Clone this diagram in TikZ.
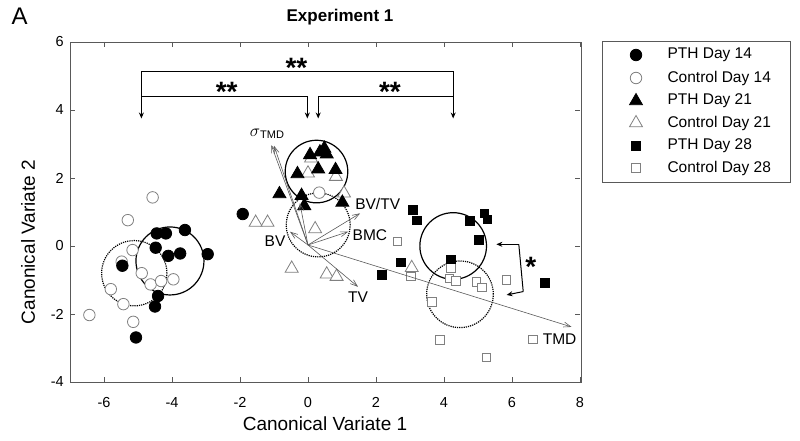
\documentclass[tikz,border=0pt]{standalone}
\usepackage{fontspec}
\setmainfont{Liberation Sans}
\usetikzlibrary{shapes.geometric,arrows.meta}
\begin{document}
\begin{tikzpicture}[x=1pt,y=-1pt,
  mk/.style={inner sep=0pt,line width=0.8pt},
  fc/.style={mk,circle,fill=black,draw=black,minimum size=11.5pt},
  oc/.style={mk,circle,draw=gray,fill=white,minimum size=11.5pt},
  ft/.style={mk,regular polygon,regular polygon sides=3,fill=black,draw=black,minimum size=15pt},
  ot/.style={mk,regular polygon,regular polygon sides=3,draw=gray,fill=white,minimum size=15pt},
  fs/.style={mk,rectangle,fill=black,draw=black,minimum size=8.5pt},
  os/.style={mk,rectangle,draw=gray,fill=white,minimum size=8.5pt},
  solidc/.style={line width=1.2pt},
  dotc/.style={line width=1.2pt,densely dotted},
  vec/.style={gray!70!black,line width=0.6pt,-{Straight Barb[length=7pt,width=5pt]}},
  brk/.style={line width=1pt},
  brka/.style={line width=1pt,-{Stealth[length=6pt,width=5pt]}},
  tick/.style={font=\fontsize{14.5}{15}\selectfont},
  lab/.style={font=\fontsize{15.5}{16}\selectfont},
  star/.style={font=\bfseries\fontsize{28}{28}\selectfont},
  leg/.style={font=\fontsize{15.5}{16}\selectfont,anchor=west}]
\useasboundingbox (0,0) rectangle (800,441);
\node[font=\fontsize{24}{24}\selectfont,anchor=west] (A) at (8,16) {A};
\node[font=\bfseries\fontsize{17}{17}\selectfont] (title) at (340,17) {Experiment 1};
\node[font=\fontsize{19}{19}\selectfont] (xl) at (325,424) {Canonical Variate 1};
\node[font=\fontsize{19}{19}\selectfont,rotate=90] (yl) at (28,242) {Canonical Variate 2};
\draw[gray!70!black,line width=0.7pt] (70,42) rectangle (581,382);
\begin{scope}[shift={(308,246)},x=34pt,y=34pt]
\foreach \v in {-6,-4,...,8}{
  \draw[gray!70!black] (\v,-4) -- ++(0,0.15) (\v,6) -- ++(0,-0.15);
  \node[tick] at (\v,-4.6) {\v};}
\foreach \v in {-4,-2,...,6}{
  \draw[gray!70!black] (-7,\v) -- ++(0.15,0) (8,\v) -- ++(-0.15,0);
  \node[tick,anchor=east] at (-7.08,\v) {\v};}
% circles
\draw[dotc] (-5.11,-0.80) circle (0.96);
\draw[solidc] (-4.06,-0.44) circle (1.0);
\draw[solidc] (0.25,2.19) circle (0.92);
\draw[dotc] (0.30,0.62) circle (0.94);
\draw[solidc] (4.27,0.0) circle (0.98);
\draw[dotc] (4.47,-1.42) circle (0.98);
% control day 14
\foreach \x/\y in {-4.57/1.43,-5.30/0.76,-5.16/-0.12,-5.48/-0.46,-4.89/-0.80,-4.63/-1.13,-4.32/-1.03,-3.96/-0.98,-5.80/-1.27,-5.43/-1.71,-6.43/-2.03,-5.14/-2.23,0.33/1.57}
  \node[oc] at (\x,\y) {};
% PTH day 14
\foreach \x/\y in {-4.45/0.37,-4.18/0.37,-3.62/0.47,-4.48/-0.05,-4.11/-0.29,-3.76/-0.22,-2.95/-0.24,-5.46/-0.58,-4.41/-1.47,-4.50/-1.78,-5.06/-2.69,-1.92/0.94}
  \node[fc] at (\x,\y) {};
% control day 21
\foreach \x/\y in {0.09/2.58,0.0/2.14,0.82/2.04,1.06/1.55,-1.54/0.69,-1.19/0.69,0.21/0.5,-0.48/-0.66,0.55/-0.83,0.84/-0.9,3.05/-0.64}
  \node[ot] at (\x,\y) {};
% PTH day 21
\foreach \x/\y in {0.48/2.87,0.35/2.76,0.06/2.68,0.55/2.7,-0.31/2.12,0.30/2.26,0.81/2.24,-0.84/1.53,-0.19/1.48,-0.11/1.18,1.01/1.28}
  \node[ft] at (\x,\y) {};
% control day 28
\foreach \x/\y in {2.63/0.13,3.03/-0.9,4.21/-0.64,4.16/-0.95,4.35/-1.02,4.96/-1.05,5.11/-1.22,5.84/-1.0,3.64/-1.64,3.88/-2.76,5.25/-3.28,6.61/-2.74}
  \node[os] at (\x,\y) {};
% PTH day 28
\foreach \x/\y in {3.08/1.06,3.2/0.76,5.19/0.96,5.28/0.78,4.76/0.74,5.03/0.18,2.73/-0.48,2.18/-0.85,4.21/-0.39,6.97/-1.08}
  \node[fs] at (\x,\y) {};
% vectors
\coordinate (o) at (0,0.03);
\draw[vec] (o) -- (-1.08,2.97);
\draw[vec] (o) -- (-1.0,2.95);
\draw[vec] (o) -- (-0.53,0.42);
\draw[vec] (o) -- (-0.24,1.26);
\draw[vec] (o) -- (1.53,0.96);
\draw[vec] (o) -- (1.18,0.42);
\draw[vec] (o) -- (1.47,-1.20);
\draw[vec] (o) -- (7.75,-2.38);
\node[font=\fontsize{16}{16}\selectfont] (sig) at (-1.2,3.3) {$\sigma$\textsubscript{\fontsize{11}{11}\selectfont TMD}};
\node[lab] (bvtv) at (2.05,1.25) {BV/TV};
\node[lab] (bmc) at (1.82,0.32) {BMC};
\node[lab] (bv) at (-0.97,0.13) {BV};
\node[lab] (tv) at (1.47,-1.5) {TV};
\node[lab] (tmd) at (7.4,-2.75) {TMD};
% brackets
\coordinate (b1) at (-4.9,3.75); \coordinate (b2) at (4.27,3.75);
\coordinate (b3) at (-0.02,3.75); \coordinate (b4) at (0.3,3.75);
\draw[brka] (-4.9,5.13) -- (4.27,5.13) -- (b2);
\draw[brka] (-4.9,5.13) -- (b1);
\draw[brk] (-4.9,4.4) -- (-0.02,4.4);
\draw[brka] (-0.02,4.4) -- (b3);
\draw[brka] (4.27,4.4) -- (0.3,4.4) -- (b4);
\node[star] at (-0.34,5.25) {**};
\node[star] at (-2.39,4.52) {**};
\node[star] at (2.41,4.52) {**};
\coordinate (s1) at (5.54,0.05); \coordinate (s2) at (5.84,-1.44);
\draw[brka] (6.2,0.05) -- (s1);
\draw[brk] (6.2,0.05) -- (6.33,-1.34);
\draw[brka] (6.33,-1.34) -- (s2);
\node[star] at (6.55,-0.62) {*};
\end{scope}
% legend
\draw[gray!70!black,line width=0.7pt] (602,41) rectangle (790,182);
\node[fc] at (636,55) {}; \node[leg] at (664,55) {PTH Day 14};
\node[oc] at (636,78) {}; \node[leg] at (664,78) {Control Day 14};
\node[ft] at (636,101) {}; \node[leg] at (664,101) {PTH Day 21};
\node[ot] at (636,123) {}; \node[leg] at (664,123) {Control Day 21};
\node[fs] at (636,146) {}; \node[leg] at (664,146) {PTH Day 28};
\node[os] at (636,168) {}; \node[leg] at (664,168) {Control Day 28};
\end{tikzpicture}
\end{document}
